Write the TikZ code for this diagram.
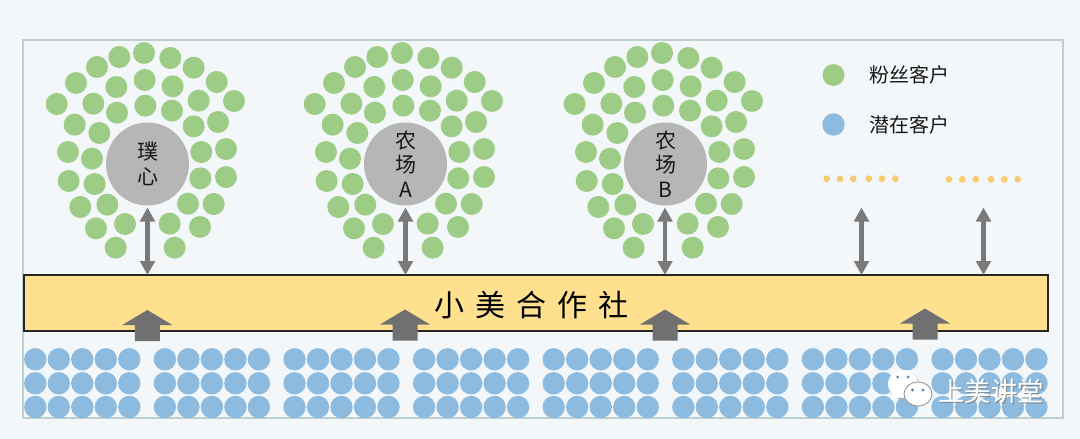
\documentclass[tikz,border=0pt]{standalone}
\usepackage{fontspec}
\setmainfont{Noto Sans CJK SC}
\definecolor{pagebg}{HTML}{F3F7F9}
\definecolor{framec}{HTML}{BCD0D0}
\definecolor{fan}{HTML}{9CCC85}
\definecolor{pot}{HTML}{8DBBE0}
\definecolor{hub}{HTML}{B6B6B6}
\definecolor{barfill}{HTML}{FEE08F}
\definecolor{arrowc}{HTML}{7A7A7A}
\definecolor{bigarrow}{HTML}{707070}
\definecolor{yel}{HTML}{F7CB75}
\usetikzlibrary{arrows.meta}
\tikzset{
  x=1pt,y=-1pt,
  fandot/.style={circle,fill=fan,draw=none,minimum size=22pt,inner sep=0pt},
  potdot/.style={circle,fill=pot,draw=none,minimum size=22.4pt,inner sep=0pt},
  yeldot/.style={circle,fill=yel,draw=none,minimum size=6.8pt,inner sep=0pt},
  hubnode/.style={circle,fill=hub,draw=none,minimum size=83pt,inner sep=0pt,align=center,text=black!90,font=\fontsize{21}{24.5}\selectfont},
  legendtext/.style={anchor=west,inner sep=0pt,text=black!90,font=\fontsize{20}{24}\selectfont},
  link/.style={draw=arrowc,line width=4.4pt,{Triangle[length=14pt,width=14.5pt]}-{Triangle[length=14pt,width=14.5pt]}},
  bigup/.style={fill=bigarrow,draw=none},
}
\begin{document}
\begin{tikzpicture}
\useasboundingbox (0,0) rectangle (1080,439);
\fill[pagebg] (0,0) rectangle (1080,439);
\node[draw=framec,line width=1.6pt,fill=pagebg,outer sep=0pt,minimum width=1039.7pt,minimum height=378pt,inner sep=0pt,anchor=north west] (frame) at (23,40) {};

% fan clusters
\foreach \cx/\off/\lab/\nm in {0/0/璞\\心/a, 1/258/农\\场\\A/b, 2/518/农\\场\\B/c}{
  \begin{scope}[shift={(\off,0)}]
  \foreach \zx/\zy [count=\i] in {372/69,298/81,451/84,231/111,521/113,168/159,590/156,289/171,374/150,458/169,110/222,220/221,291/248,376/227,456/242,536/212,642/213,164/284,238/309,521/289,594/276,144/366,216/386,544/366,618/357,146/453,224/462,541/445,618/441,181/531,262/524,504/521,581/522,228/595,315/582,449/581,540/591,287/653,464/653}{
    \node[fandot] (f\nm\i) at ({20+\zx/3},{30+\zy/3}) {};
  }
  \node[hubnode] (hub\nm) at (147.5,164) {\lab};
  \end{scope}
}

% legend
\node[fandot] (legfan) at (833.5,75) {};
\node[potdot] (legpot) at (833.5,124.5) {};
\node[legendtext] (legfant) at (869,75) {粉丝客户};
\node[legendtext] (legpott) at (869,125) {潜在客户};

% ellipsis dots
\foreach \x [count=\i] in {826.7,840,853.3,868.7,882,895.3}{\node[yeldot] (ya\i) at (\x,178.7) {};}
\foreach \x [count=\i] in {949,962.3,975.7,991,1004.3,1017.7}{\node[yeldot] (yb\i) at (\x,179.3) {};}

% potential customers
\foreach \g in {0,...,7}{
  \foreach \c in {0,...,4}{
    \foreach \r/\y in {0/359.3,1/383.3,2/407}{
      \node[potdot] (p\g\c\r) at ({35.3+129.6*\g+23.5*\c},\y) {};
    }
  }
}

% cooperative bar
\node[draw=black!85,line width=1.8pt,fill=barfill,outer sep=0pt,minimum width=1023.7pt,minimum height=56.3pt,inner sep=0pt,anchor=north west] (bar) at (24,275) {};
\node[inner sep=0pt,text=black,font=\fontsize{30}{32}\selectfont] (bartext) at (531.5,305.5) {小\hspace{11pt}美\hspace{11pt}合\hspace{11pt}作\hspace{11pt}社};

% big up arrows
\foreach \x/\t in {147.3/310,405/309.5,665/309.5,925/308.5}{
  \fill[bigup] (\x,\t) -- ++(25,15) -- ++(-12.5,0) -- ++(0,16) -- ++(-25,0) -- ++(0,-16) -- ++(-12.5,0) -- cycle;
}

% two-way links
\coordinate (topd) at (861.5,207.5);
\coordinate (tope) at (983.5,207.5);
\coordinate (a1) at (147.5,207.5);
\coordinate (b1) at (405.5,207.5);
\coordinate (c1) at (665,207.5);
\foreach \n in {a1,b1,c1,topd,tope}{
  \draw[link] (\n) -- (\n |- bar.north);
}

% watermark
\fill[black!35,opacity=.6] (904,385.5) ellipse (15.5 and 14);
\fill[white] (903,384) ellipse (15 and 14);
\fill[white] (893,393) -- (891,400) -- (902,396) -- cycle;
\fill[pot!70!black] (897.5,377) circle (1.5);
\fill[pot!70!black] (908,377) circle (1.5);
\fill[white] (921,403) -- (928,408) -- (927,400) -- cycle;
\filldraw[fill=white,draw=black!45,line width=.8pt] (918,394) ellipse (14 and 12);
\fill[pot!70!black] (912.5,390) circle (1.6);
\fill[pot!70!black] (923,390) circle (1.6);
\node[inner sep=0pt,text=black!55,opacity=.8,font=\fontsize{26.5}{30}\selectfont,anchor=west] (markshadow) at (939,392.5) {上美讲堂};
\node[inner sep=0pt,text=white,font=\fontsize{26.5}{30}\selectfont,anchor=west] (mark) at (938,391) {上美讲堂};
\end{tikzpicture}
\end{document}
